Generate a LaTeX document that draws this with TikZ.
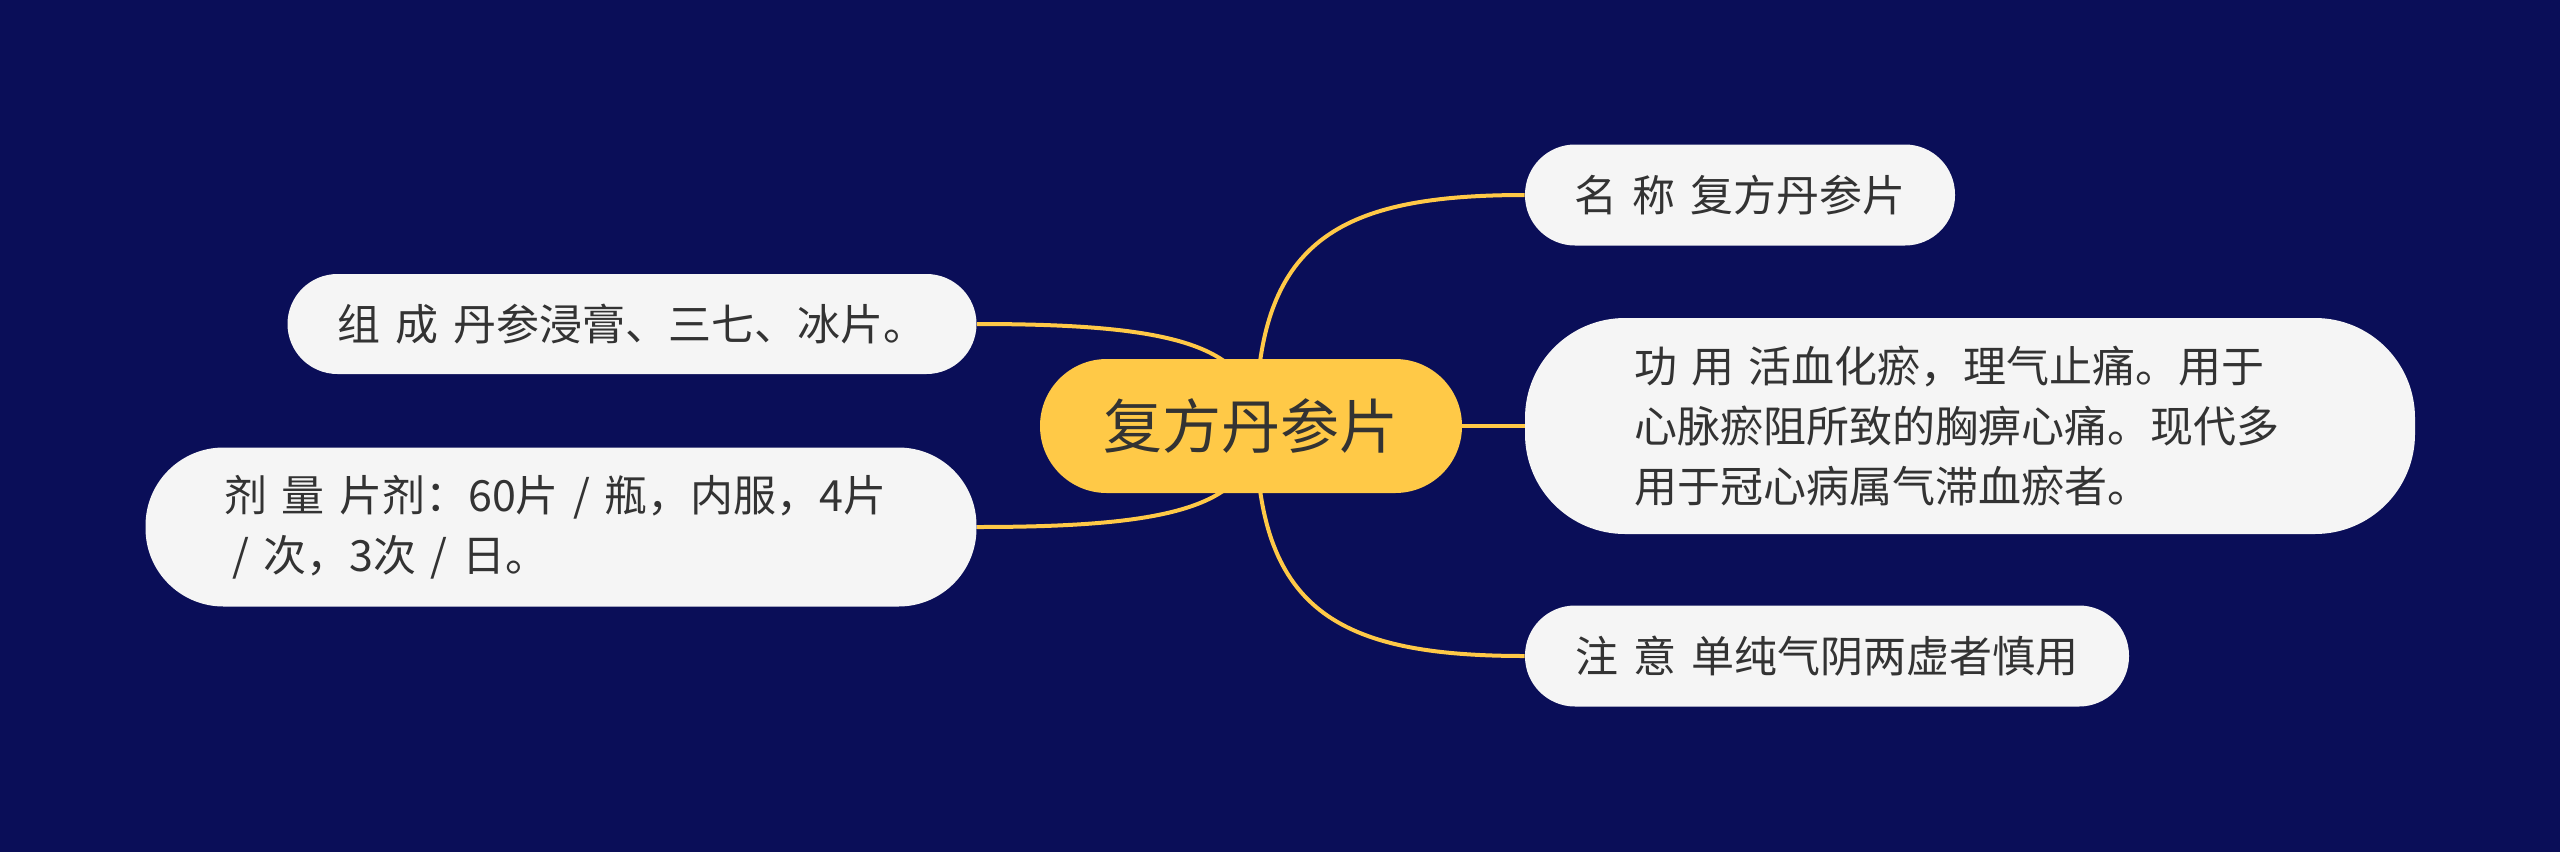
\documentclass[tikz,border=0pt]{standalone}
\usepackage{fontspec}
\setmainfont{Noto Sans CJK SC}
\usetikzlibrary{calc,backgrounds}
\definecolor{bgblue}{HTML}{0A0E58}
\definecolor{mainyellow}{HTML}{FFC947}
\definecolor{childfill}{HTML}{F5F5F5}
\definecolor{txt}{HTML}{333333}
\newcommand{\widesp}{\spaceskip=0.36em plus 0.05em minus 0.05em\relax}
\tikzset{
  rootbox/.style={fill=mainyellow, text=txt, rounded corners=33.4pt, inner sep=0pt,
    minimum width=211pt, minimum height=67pt, font=\fontsize{29.5pt}{34pt}\selectfont},
  childbox/.style={fill=childfill, text=txt, inner sep=0pt, align=left,
    font=\fontsize{21.5pt}{30pt}\selectfont\widesp},
  link/.style={draw=mainyellow, line width=2pt}
}
\begin{document}
\begin{tikzpicture}[x=0.5pt,y=-0.5pt]
\useasboundingbox (0,0) rectangle (2560,852);
\node[rootbox] (root) at (1251,426) {复方丹参片};
\coordinate (o) at (1256,426);
\node[childbox, minimum width=215pt, minimum height=50.5pt, rounded corners=25pt] (name) at (1740,195) {名 称 复方丹参片};
\node[childbox, minimum width=445pt, minimum height=108pt, rounded corners=50pt, text width=336pt] (use) at (1970,426) {\mbox{功 用 活血化瘀，理气止痛。用于}\\\mbox{心脉瘀阻所致的胸痹心痛。现代多}\\\mbox{用于冠心病属气滞血瘀者。}};
\node[childbox, minimum width=302pt, minimum height=50.5pt, rounded corners=25pt] (note) at (1827,656) {注 意 单纯气阴两虚者慎用};
\node[childbox, minimum width=344.5pt, minimum height=50pt, rounded corners=25pt] (comp) at (632,324) {组 成 丹参浸膏、三七、冰片。};
\node[childbox, minimum width=415.5pt, minimum height=79.5pt, rounded corners=39pt, text width=336.5pt] (dose) at (561,527) {\mbox{剂 量 片剂：60片 / 瓶，内服，4片}\\\mbox{\hspace{4pt}/ 次，3次 / 日。}};
\begin{scope}[on background layer]
\fill[bgblue] (0,0) rectangle (2560,852);
\draw[link] (o) .. controls ($(o)!0.8!(o|-name.west)$) and ($(o|-name.west)!0.3!(name.west)$) .. (name.west);
\draw[link] (o) -- (use.west);
\draw[link] (o) .. controls ($(o)!0.8!(o|-note.west)$) and ($(o|-note.west)!0.3!(note.west)$) .. (note.west);
\draw[link] (o) .. controls ($(o)!0.8!(o|-comp.east)$) and ($(o|-comp.east)!0.3!(comp.east)$) .. (comp.east);
\draw[link] (o) .. controls ($(o)!0.8!(o|-dose.east)$) and ($(o|-dose.east)!0.3!(dose.east)$) .. (dose.east);
\end{scope}
\end{tikzpicture}
\end{document}
